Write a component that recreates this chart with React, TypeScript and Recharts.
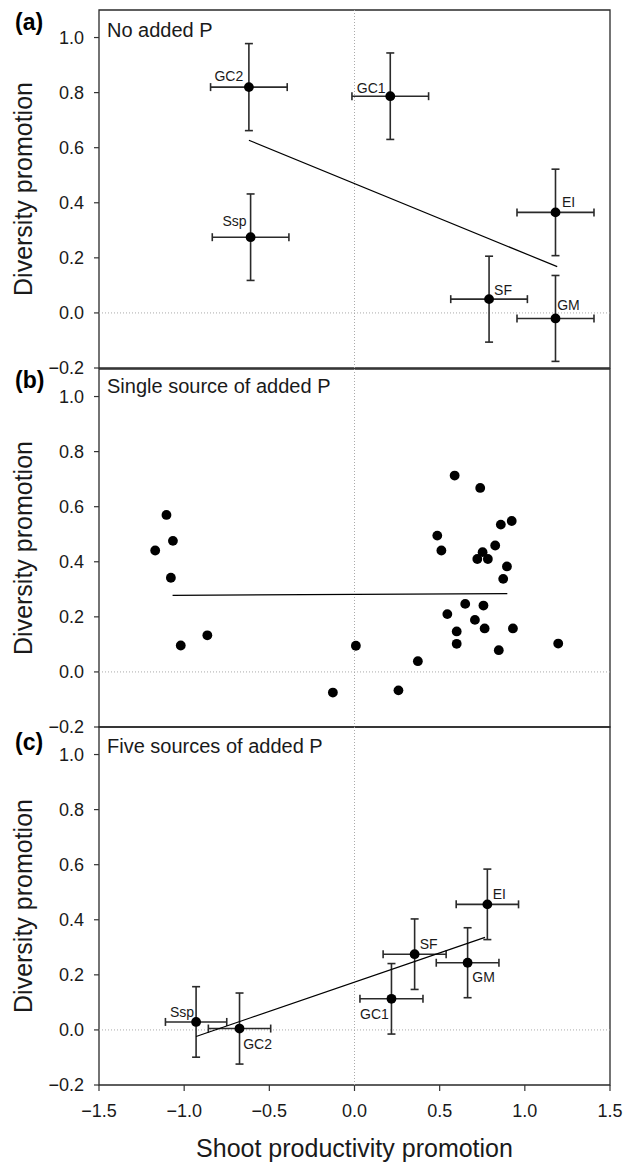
import {
  ErrorBar,
  Label,
  ReferenceArea,
  ReferenceLine,
  Scatter,
  ScatterChart,
  XAxis,
  YAxis,
} from 'recharts';

// axis ticks shared by all three panels
const xTicks = [-1.5, -1.0, -0.5, 0.0, 0.5, 1.0, 1.5];
const yTicks = [-0.2, 0.0, 0.2, 0.4, 0.6, 0.8, 1.0];

// (a) no added P
const noAddedNames = ['GC2', 'GC1', 'Ssp', 'EI', 'SF', 'GM'];
const noAddedX = [-0.62, 0.21, -0.61, 1.18, 0.79, 1.18];
const noAddedY = [0.82, 0.787, 0.275, 0.365, 0.05, -0.02];
const noAddedXErr = [0.225, 0.225, 0.225, 0.226, 0.225, 0.226];
const noAddedYErr = [0.158, 0.157, 0.157, 0.157, 0.156, 0.156];
const noAddedFitX = [-0.62, 1.19];
const noAddedFitY = [0.627, 0.168];

// (b) single source of added P
const singleX = [
  -1.17, -1.104, -1.066, -1.078, -1.02, -0.864, -0.127, 0.008, 0.258, 0.372, 0.486,
  0.51, 0.588, 0.545, 0.6, 0.6, 0.65, 0.707, 0.738, 0.721, 0.752, 0.783, 0.757, 0.764,
  0.826, 0.859, 0.923, 0.895, 0.873, 0.847, 0.93, 1.196,
];
const singleY = [
  0.441, 0.57, 0.476, 0.342, 0.096, 0.133, -0.075, 0.095, -0.067, 0.039, 0.495,
  0.441, 0.713, 0.21, 0.147, 0.102, 0.247, 0.189, 0.668, 0.41, 0.435, 0.41, 0.241, 0.158,
  0.459, 0.535, 0.548, 0.383, 0.338, 0.079, 0.158, 0.103,
];
const singleFitX = [-1.068, 0.897];
const singleFitY = [0.278, 0.284];

// (c) five sources of added P
const fiveNames = ['Ssp', 'GC2', 'GC1', 'SF', 'GM', 'EI'];
const fiveX = [-0.93, -0.675, 0.217, 0.353, 0.664, 0.78];
const fiveY = [0.029, 0.005, 0.113, 0.275, 0.244, 0.456];
const fiveXErr = [0.18, 0.183, 0.185, 0.185, 0.184, 0.183];
const fiveYErr = [0.128, 0.129, 0.128, 0.128, 0.127, 0.128];
const fiveFitX = [-0.93, 0.766];
const fiveFitY = [-0.024, 0.336];

// where each point label sits relative to its dot (px)
const noAddedLabelOffsets: Record<string, [number, number]> = {
  GC2: [-20, -11],
  GC1: [-19, -8],
  Ssp: [-16, -16],
  EI: [13, -10],
  SF: [14, -9],
  GM: [13, -13],
};
const fiveLabelOffsets: Record<string, [number, number]> = {
  Ssp: [-14, -10],
  GC2: [18, 15],
  GC1: [-17, 15],
  SF: [14, -10],
  GM: [16, 14],
  EI: [12, -10],
};

type Point = { name?: string; x: number; y: number; ex?: number; ey?: number };

function buildPoints(xs: number[], ys: number[], names?: string[], xErr?: number[], yErr?: number[]) {
  return xs.map((x, i): Point => ({
    name: names?.[i],
    x,
    y: ys[i],
    ex: xErr?.[i],
    ey: yErr?.[i],
  }));
}

const fontFamily = '"Liberation Sans", Arial, sans-serif';
const ink = '#1a1a1a';

function formatTick(value: number) {
  const s = Math.abs(value).toFixed(1);
  return value < -1e-9 ? `\u2212${s}` : s;
}

function makeDot(offsets?: Record<string, [number, number]>) {
  return (props: any) => {
    const { cx, cy, payload } = props;
    const off = payload?.name && offsets ? offsets[payload.name] : undefined;
    return (
      <g>
        <circle cx={cx} cy={cy} r={4.9} fill="#000" />
        {off && (
          <text
            x={cx + off[0]}
            y={cy + off[1]}
            textAnchor="middle"
            dominantBaseline="central"
            fontSize={14}
            fill={ink}
          >
            {payload.name}
          </text>
        )}
      </g>
    );
  };
}

const noShape = () => <g />;

interface PanelProps {
  top: number;
  height: number;
  bottomMargin: number;
  points: Point[];
  fit: Point[];
  offsets?: Record<string, [number, number]>;
  withErrors: boolean;
  showXAxis: boolean;
}

function Panel({ top, height, bottomMargin, points, fit, offsets, withErrors, showXAxis }: PanelProps) {
  return (
    <div style={{ position: 'absolute', top, left: 0 }}>
      <ScatterChart
        width={634}
        height={height}
        margin={{ top: 10, right: 24, bottom: bottomMargin, left: 0 }}
      >
        <XAxis
          type="number"
          dataKey="x"
          domain={[-1.5, 1.5]}
          ticks={xTicks}
          hide={!showXAxis}
          height={30}
          axisLine={false}
          tickLine={{ stroke: '#333', strokeWidth: 1.2 }}
          tickSize={6}
          tickMargin={13}
          tickFormatter={formatTick}
          tick={{ fill: ink, fontSize: 18, fontFamily }}
          interval={0}
        >
          {showXAxis && (
            <Label
              content={(p: any) => {
                const vb = p.viewBox;
                return (
                  <text
                    x={vb.x + vb.width / 2}
                    y={vb.y + 72}
                    textAnchor="middle"
                    fontSize={25}
                    fontFamily={fontFamily}
                    fill={ink}
                  >
                    Shoot productivity promotion
                  </text>
                );
              }}
            />
          )}
        </XAxis>
        <YAxis
          type="number"
          dataKey="y"
          domain={[-0.2, 1.1]}
          ticks={yTicks}
          width={99}
          axisLine={false}
          tickLine={{ stroke: '#333', strokeWidth: 1.2 }}
          tickSize={5}
          tickMargin={10}
          tickFormatter={formatTick}
          tick={{ fill: ink, fontSize: 18, fontFamily }}
          interval={0}
        >
          <Label
            content={(p: any) => {
              const vb = p.viewBox;
              const cy = vb.y + vb.height / 2;
              return (
                <text
                  x={23}
                  y={cy}
                  transform={`rotate(-90 23 ${cy})`}
                  textAnchor="middle"
                  dominantBaseline="central"
                  fontSize={25}
                  fontFamily={fontFamily}
                  fill={ink}
                >
                  Diversity promotion
                </text>
              );
            }}
          />
        </YAxis>
        <ReferenceArea
          x1={-1.5}
          x2={1.5}
          y1={-0.2}
          y2={1.1}
          fill="none"
          fillOpacity={0}
          stroke="#2a2a2a"
          strokeWidth={1.3}
        />
        <ReferenceLine x={0} stroke="#aaa" strokeDasharray="1 2" />
        <ReferenceLine y={0} stroke="#aaa" strokeDasharray="1 2" />
        <Scatter
          data={fit}
          line={{ stroke: '#000', strokeWidth: 1.2 }}
          shape={noShape}
          isAnimationActive={false}
        />
        <Scatter data={points} shape={makeDot(offsets)} isAnimationActive={false}>
          {withErrors && (
            <ErrorBar dataKey="ex" direction="x" width={4} stroke="#2a2a2a" strokeWidth={1.6} />
          )}
          {withErrors && (
            <ErrorBar dataKey="ey" direction="y" width={4} stroke="#2a2a2a" strokeWidth={1.6} />
          )}
        </Scatter>
      </ScatterChart>
    </div>
  );
}

const letterStyle = { fontSize: 23, fontWeight: 700, fontFamily, fill: '#000' };
const titleStyle = { fontSize: 20, fontFamily, fill: ink };

export default function App() {
  const noAdded = buildPoints(noAddedX, noAddedY, noAddedNames, noAddedXErr, noAddedYErr);
  const single = buildPoints(singleX, singleY);
  const five = buildPoints(fiveX, fiveY, fiveNames, fiveXErr, fiveYErr);

  return (
    <div
      style={{
        position: 'absolute',
        top: 0,
        left: 0,
        width: 634,
        height: 1164,
        background: '#fff',
        fontFamily,
      }}
    >
      <Panel
        top={0}
        height={380}
        bottomMargin={12}
        points={noAdded}
        fit={buildPoints(noAddedFitX, noAddedFitY)}
        offsets={noAddedLabelOffsets}
        withErrors
        showXAxis={false}
      />
      <Panel
        top={359}
        height={380}
        bottomMargin={12}
        points={single}
        fit={buildPoints(singleFitX, singleFitY)}
        withErrors={false}
        showXAxis={false}
      />
      <Panel
        top={717}
        height={447}
        bottomMargin={49}
        points={five}
        fit={buildPoints(fiveFitX, fiveFitY)}
        offsets={fiveLabelOffsets}
        withErrors
        showXAxis
      />
      <svg
        width={634}
        height={1164}
        style={{ position: 'absolute', top: 0, left: 0, pointerEvents: 'none' }}
      >
        <text x={15} y={30} style={letterStyle}>(a)</text>
        <text x={107} y={36.5} style={titleStyle}>No added P</text>
        <text x={15} y={388} style={letterStyle}>(b)</text>
        <text x={107} y={393} style={titleStyle}>Single source of added P</text>
        <text x={15} y={750} style={letterStyle}>(c)</text>
        <text x={107} y={753} style={titleStyle}>Five sources of added P</text>
      </svg>
    </div>
  );
}
